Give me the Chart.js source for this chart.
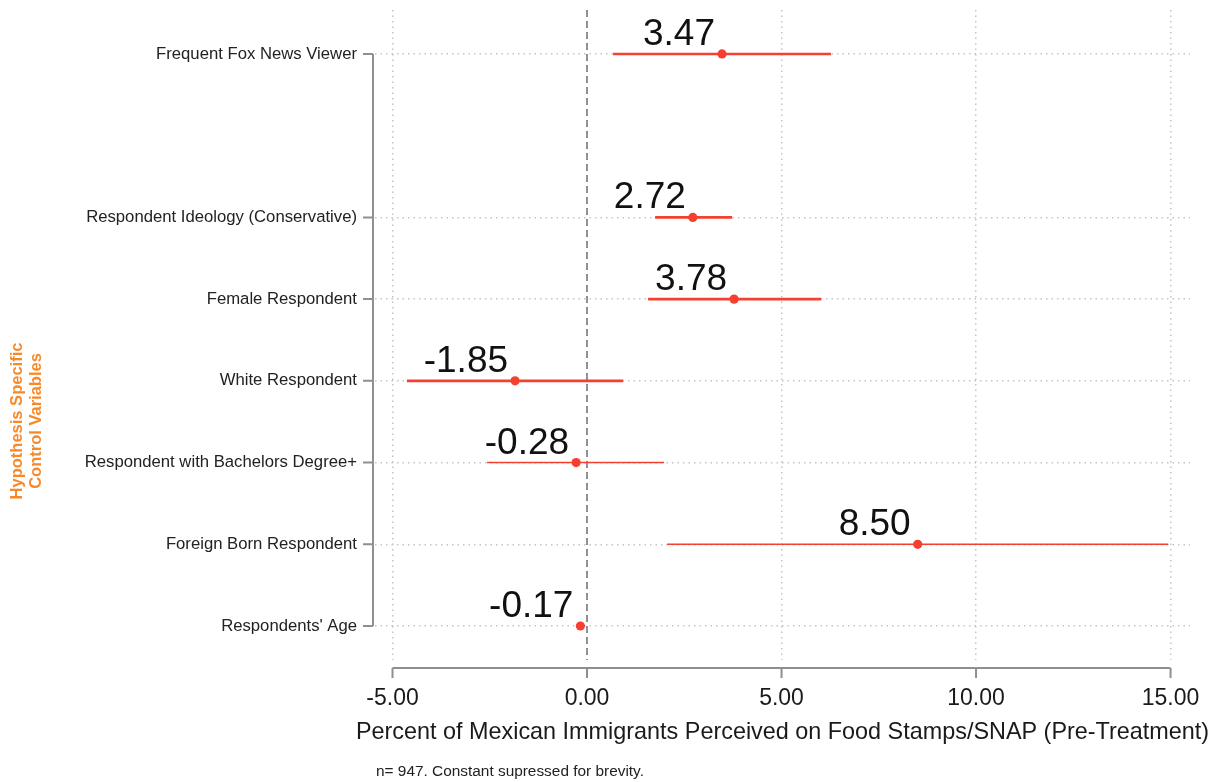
<!DOCTYPE html>
<html>
<head>
<meta charset="utf-8">
<script src="https://cdn.jsdelivr.net/npm/chart.js@4/dist/chart.umd.min.js"></script>
<style>
  html, body { margin: 0; padding: 0; background: #ffffff; }
  #wrap { width: 1220px; height: 782px; }
</style>
</head>
<body>
<div id="wrap"><canvas id="c" width="1220" height="782"></canvas></div>
<script>
// ---- data ----
const categories = [
  'Frequent Fox News Viewer',
  '',
  'Respondent Ideology (Conservative)',
  'Female Respondent',
  'White Respondent',
  'Respondent with Bachelors Degree+',
  'Foreign Born Respondent',
  "Respondents' Age"
];
const estimates = [3.47, null, 2.72, 3.78, -1.85, -0.28, 8.50, -0.17];
const lowerCI   = [0.67, null, 1.75, 1.57, -4.63, -2.57, 2.06, -0.23];
const upperCI   = [6.27, null, 3.73, 6.02, 0.93, 1.98, 14.94, -0.11];
const xTicks    = [-5, 0, 5, 10, 15];
const xAxisTitle = 'Percent of Mexican Immigrants Perceived on Food Stamps/SNAP (Pre-Treatment)';
const groupTitle = ['Hypothesis Specific', 'Control Variables'];
const noteText = 'n= 947. Constant supressed for brevity.';

// ---- styles ----
const RED = '#f5402f';
const ciWidths = [2.6, 0, 2.6, 2.6, 2.6, 1.4, 1.4, 1.4];
const AXIS_COL = '#8f8f8f';
const GRID_COL = '#c4c4c4';
const FONT = '"Liberation Sans", Arial, sans-serif';

const rowIdx = categories.map((c, i) => i);
const validRows = rowIdx.filter(i => categories[i] !== '' && estimates[i] !== null);

const datasets = [];
validRows.forEach(i => {
  datasets.push({
    type: 'line',
    data: [{x: lowerCI[i], y: i}, {x: upperCI[i], y: i}],
    borderColor: RED,
    borderWidth: ciWidths[i],
    pointRadius: 0,
    fill: false,
    order: 2
  });
});
datasets.push({
  type: 'line',
  data: [{x: 0, y: -0.538}, {x: 0, y: 7.416}],
  borderColor: '#7a7a7a',
  borderWidth: 1.6,
  borderDash: [7, 4],
  pointRadius: 0,
  fill: false,
  order: 3
});
datasets.push({
  type: 'scatter',
  label: 'est',
  data: validRows.map(i => ({x: estimates[i], y: i})),
  backgroundColor: RED,
  borderColor: RED,
  borderWidth: 0,
  pointRadius: 4.6,
  order: 1
});

const rAxes = {
  id: 'rAxes',
  afterDraw(chart) {
    const {ctx, scales: {x, y}, chartArea} = chart;
    ctx.save();
    ctx.strokeStyle = AXIS_COL;
    ctx.lineWidth = 2;
    ctx.setLineDash([]);
    // left axis
    const ax = chartArea.left - 2;
    const yTop = y.getPixelForValue(validRows[0]);
    const yBot = y.getPixelForValue(validRows[validRows.length - 1]);
    ctx.beginPath();
    ctx.moveTo(ax, yTop); ctx.lineTo(ax, yBot);
    validRows.forEach(i => {
      const p = y.getPixelForValue(i);
      ctx.moveTo(ax - 10, p); ctx.lineTo(ax, p);
    });
    ctx.stroke();
    // bottom axis
    const by = chartArea.bottom + 8;
    ctx.beginPath();
    ctx.moveTo(x.getPixelForValue(xTicks[0]), by);
    ctx.lineTo(x.getPixelForValue(xTicks[xTicks.length - 1]), by);
    xTicks.forEach(t => {
      const p = x.getPixelForValue(t);
      ctx.moveTo(p, by); ctx.lineTo(p, by + 10);
    });
    ctx.stroke();
    ctx.restore();
  }
};

const valueLabels = {
  id: 'valueLabels',
  afterDatasetsDraw(chart) {
    const {ctx} = chart;
    const di = chart.data.datasets.findIndex(d => d.label === 'est');
    const meta = chart.getDatasetMeta(di);
    ctx.save();
    ctx.font = '37px ' + FONT;
    ctx.fillStyle = '#111111';
    ctx.textAlign = 'right';
    ctx.textBaseline = 'alphabetic';
    meta.data.forEach((pt, k) => {
      const i = validRows[k];
      ctx.fillText(estimates[i].toFixed(2), pt.x - 7, pt.y - 9);
    });
    ctx.restore();
  }
};

const extraText = {
  id: 'extraText',
  afterDraw(chart) {
    const {ctx, chartArea} = chart;
    ctx.save();
    ctx.fillStyle = '#f7892b';
    ctx.font = 'bold 16.5px ' + FONT;
    ctx.textAlign = 'center';
    ctx.textBaseline = 'middle';
    ctx.translate(17, 421);
    ctx.rotate(-Math.PI / 2);
    ctx.fillText(groupTitle[0], 0, 0);
    ctx.fillText(groupTitle[1], 0, 19);
    ctx.restore();
    // x axis title (drawn without width squeezing)
    ctx.save();
    ctx.fillStyle = '#1a1a1a';
    ctx.font = '23.4px ' + FONT;
    ctx.textAlign = 'center';
    ctx.textBaseline = 'middle';
    ctx.fillText(xAxisTitle, (chartArea.left + chartArea.right) / 2, 733);
    ctx.restore();
    ctx.save();
    ctx.fillStyle = '#222222';
    ctx.font = '15.4px ' + FONT;
    ctx.textAlign = 'left';
    ctx.textBaseline = 'middle';
    ctx.fillText(noteText, chartArea.left + 1, 772);
    ctx.restore();
  }
};

new Chart(document.getElementById('c'), {
  type: 'scatter',
  data: { datasets },
  options: {
    responsive: false,
    devicePixelRatio: 1,
    animation: false,
    layout: { padding: { top: 10, right: 30, bottom: 0, left: 0 } },
    plugins: { legend: { display: false }, tooltip: { enabled: false } },
    scales: {
      x: {
        type: 'linear',
        min: -5.45,
        max: 15.5,
        afterBuildTicks(s) { s.ticks = xTicks.map(v => ({value: v})); },
        afterFit(s) { s.height = 122; s.paddingLeft = 0; s.paddingRight = 0; },
        grid: { color: GRID_COL, lineWidth: 1.5, drawTicks: false },
        border: { display: false, dash: [1.5, 4] },
        ticks: {
          padding: 25,
          color: '#1a1a1a',
          font: { family: FONT, size: 23 },
          callback: v => v.toFixed(2),
          maxRotation: 0
        },
        title: { display: false }
      },
      y: {
        type: 'linear',
        reverse: true,
        min: -0.538,
        max: 7.416,
        afterBuildTicks(s) { s.ticks = validRows.map(v => ({value: v})); },
        afterFit(s) { s.width = 375; s.paddingTop = 0; s.paddingBottom = 0; },
        grid: { color: GRID_COL, lineWidth: 1.5, drawTicks: false },
        border: { display: false, dash: [1.5, 4] },
        ticks: {
          padding: 18,
          color: '#222222',
          font: { family: FONT, size: 16.7 },
          callback: v => categories[v] || ''
        }
      }
    }
  },
  plugins: [rAxes, valueLabels, extraText]
});
</script>
</body>
</html>
